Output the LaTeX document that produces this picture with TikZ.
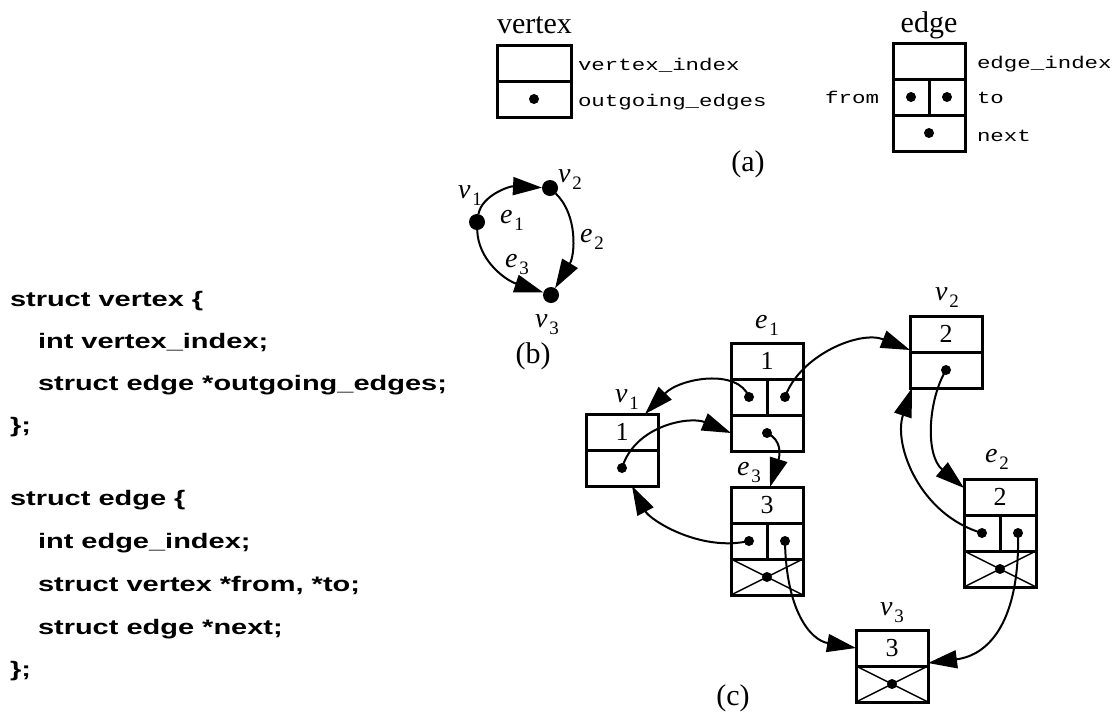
\documentclass[tikz,border=0pt]{standalone}
\usepackage{fontspec}
\setmainfont{Liberation Serif}
\newfontfamily\monofnt[FakeStretch=1.32]{Liberation Mono}
\newfontfamily\codefnt[FakeStretch=1.38]{Liberation Sans}
\usetikzlibrary{arrows.meta}
\newcommand\lsub[2]{\textit{#1}\kern2pt\raisebox{-7pt}{\fontsize{19}{20}\selectfont #2}}
\begin{document}
\begin{tikzpicture}[x=1pt,y=-1pt,
  every node/.style={inner sep=0pt, outer sep=0pt},
  titletxt/.style={font=\fontsize{30}{32}\selectfont, anchor=base west},
  captxt/.style={font=\fontsize{30}{32}\selectfont, anchor=base},
  lab/.style={font=\fontsize{28}{30}\selectfont, anchor=base west},
  mono/.style={font=\monofnt\fontsize{17}{19}\selectfont, anchor=base west},
  code/.style={font=\codefnt\bfseries\fontsize{21}{23}\selectfont, anchor=base west},
  cell/.style={draw, line width=3pt, minimum width=72pt, minimum height=36pt, font=\fontsize{26}{28}\selectfont},
  half/.style={cell, minimum width=36pt},
  dot/.style={circle, fill=black, minimum size=10pt},
  bigdot/.style={circle, fill=black, minimum size=16pt},
  crossln/.style={line width=1.5pt},
  link/.style={line width=2pt, -{Triangle[length=29pt,width=18pt]}},
]
\useasboundingbox (0,0) rectangle (1114,713);

% ---------- (a) legend ----------
\node[titletxt] (tv) at (497,33) {vertex};
\node[cell, minimum width=74pt] (lv1) at (534,63) {};
\node[cell, minimum width=74pt] (lv2) at (534,99) {};
\node[dot] (lvd) at (lv2.center) {};
\node[mono] (lvt1) at (578,70) {vertex\_index};
\node[mono] (lvt2) at (578,106) {outgoing\_edges};

\node[captxt] (te) at (929,32) {edge};
\node[cell] (le1) at (929,61) {};
\node[half] (le2) at (911,97) {};
\node[half] (le3) at (947,97) {};
\node[cell] (le4) at (929,133) {};
\node[dot] (led1) at (le2.center) {};
\node[dot] (led2) at (le3.center) {};
\node[dot] (led3) at (le4.center) {};
\node[mono, anchor=base east] (lfrom) at (879,103) {from};
\node[mono] (let1) at (977,68) {edge\_index};
\node[mono] (let2) at (977,103) {to};
\node[mono] (let3) at (977,141) {next};
\node[captxt] (ca) at (748,171) {(a)};

% ---------- code ----------
\node[code] (c1) at (10,306) {struct vertex \{};
\node[code] (c2) at (38,348) {int vertex\_index;};
\node[code] (c3) at (38,390) {struct edge *outgoing\_edges;};
\node[code] (c4) at (10,432) {\};};
\node[code] (c5) at (10,505) {struct edge \{};
\node[code] (c6) at (38,548) {int edge\_index;};
\node[code] (c7) at (38,591) {struct vertex *from, *to;};
\node[code] (c8) at (38,634) {struct edge *next;};
\node[code] (c9) at (10,676) {\};};

% ---------- (b) graph ----------
\node[bigdot] (b1) at (477,222) {};
\node[bigdot] (b2) at (550,188) {};
\node[bigdot] (b3) at (551,295) {};
\draw[link] (b1) .. controls +(5,-27) and +(-40,-2) .. (b2);
\draw[link] (b2) .. controls +(28,27) and +(24,-40) .. (b3);
\draw[link] (b1) .. controls +(1,38) and +(-46,-15) .. (b3);
\node[lab] (bv1) at (458,198) {\lsub{v}{1}};
\node[lab] (bv2) at (558,182) {\lsub{v}{2}};
\node[lab] (bv3) at (535,327) {\lsub{v}{3}};
\node[lab] (be1) at (500,223) {\lsub{e}{1}};
\node[lab] (be2) at (580,242) {\lsub{e}{2}};
\node[lab] (be3) at (505,267) {\lsub{e}{3}};
\node[captxt] (cb) at (533,363) {(b)};

% ---------- (c) structure ----------
% v1
\node[cell] (v1a) at (622,432) {1};
\node[cell] (v1b) at (622,468) {};
% e1
\node[cell] (e1a) at (767,361) {1};
\node[half] (e1l) at (749,397) {};
\node[half] (e1r) at (785,397) {};
\node[cell] (e1c) at (767,433) {};
% e3
\node[cell] (e3a) at (767,505) {3};
\node[half] (e3l) at (749,541) {};
\node[half] (e3r) at (785,541) {};
\node[cell] (e3c) at (767,577) {};
% v2
\node[cell] (v2a) at (946,334) {2};
\node[cell] (v2b) at (946,370) {};
% e2
\node[cell] (e2a) at (1000,497) {2};
\node[half] (e2l) at (982,533) {};
\node[half] (e2r) at (1018,533) {};
\node[cell] (e2c) at (1000,569) {};
% v3
\node[cell] (v3a) at (892,648) {3};
\node[cell] (v3b) at (892,684) {};

% crossed (null) cells
\draw[crossln] (e3c.north west) -- (e3c.south east) (e3c.north east) -- (e3c.south west);
\draw[crossln] (e2c.north west) -- (e2c.south east) (e2c.north east) -- (e2c.south west);
\draw[crossln] (v3b.north west) -- (v3b.south east) (v3b.north east) -- (v3b.south west);

% pointer dots
\node[dot] (v1o) at (v1b.center) {};
\node[dot] (e1f) at (e1l.center) {};
\node[dot] (e1t) at (e1r.center) {};
\node[dot] (e1n) at (e1c.center) {};
\node[dot] (e3f) at (e3l.center) {};
\node[dot] (e3t) at (e3r.center) {};
\node[dot] (e3n) at (e3c.center) {};
\node[dot] (v2o) at (v2b.center) {};
\node[dot] (e2f) at (e2l.center) {};
\node[dot] (e2t) at (e2r.center) {};
\node[dot] (e2n) at (e2c.center) {};
\node[dot] (v3o) at (v3b.center) {};

% arrow targets
\coordinate (t1) at (645,414);
\coordinate (t3) at (770,487);
\coordinate (t4) at (632,486);
\coordinate (t6) at (910,350);
\coordinate (t7) at (964,488);
\coordinate (t8) at (912,388);
\coordinate (t9) at (928,663);

\draw[link] (e1f.center) .. controls +(-11,-29) and +(35,-36) .. (t1);
\draw[link] (v1o.center) .. controls +(13,-43) and +(-41,-17) .. (e1c.west);
\draw[link] (e1n.center) .. controls +(15,7) and +(10,-32) .. (t3);
\draw[link] (e3f.center) .. controls +(-49,11) and +(18,34) .. (t4);
\draw[link] (e3t.center) .. controls +(1,69) and +(-46,-8) .. (v3a.west);
\draw[link] (e1t.center) .. controls +(15,-42) and +(-50,-20) .. (t6);
\draw[link] (v2o.center) .. controls +(-18,30) and +(-39,-33) .. (t7);
\draw[link] (e2f.center) .. controls +(-62,-18) and +(-19,57) .. (t8);
\draw[link] (e2t.center) .. controls +(2,87) and +(62,-8) .. (t9);

% labels
\node[lab] (lv1c) at (615,402) {\lsub{v}{1}};
\node[lab] (le1c) at (755,328) {\lsub{e}{1}};
\node[lab] (le3c) at (737,475) {\lsub{e}{3}};
\node[lab] (lv2c) at (935,300) {\lsub{v}{2}};
\node[lab] (le2c) at (985,462) {\lsub{e}{2}};
\node[lab] (lv3c) at (880,615) {\lsub{v}{3}};
\node[captxt] (cc) at (733,705) {(c)};
\end{tikzpicture}
\end{document}
